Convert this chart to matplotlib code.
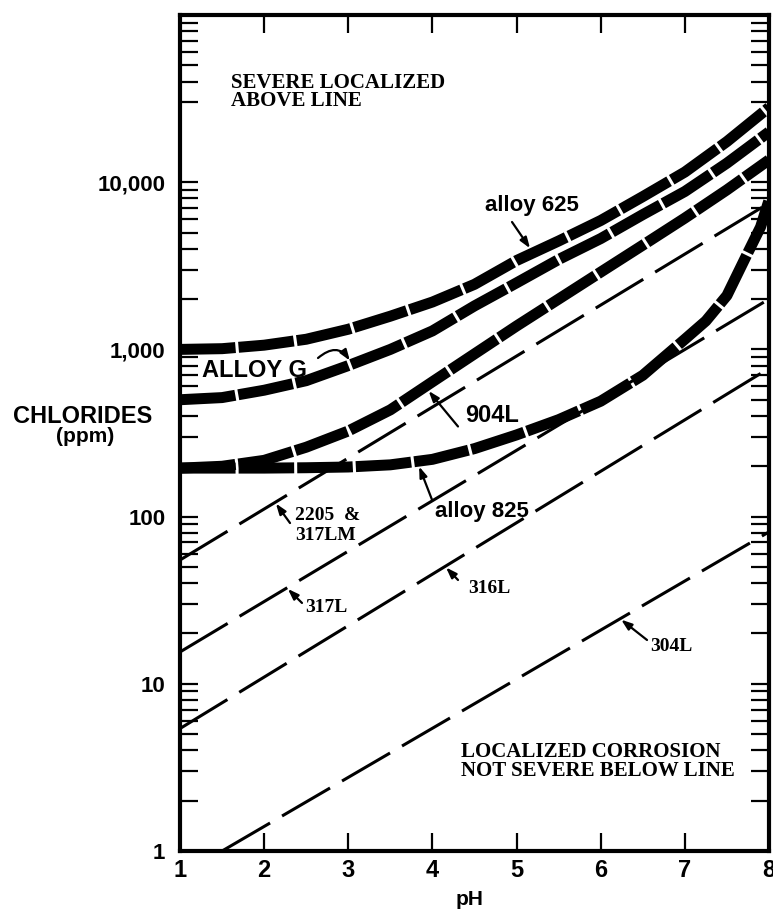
import numpy as np
import matplotlib
matplotlib.use("Agg")
import matplotlib.pyplot as plt
from matplotlib.ticker import FixedLocator, NullFormatter

plt.rcParams["lines.scale_dashes"] = False

# ---- data: chloride limits (ppm) versus pH ----
ph_curve = [1.0, 1.5, 2.0, 2.5, 3.0, 3.5, 4.0, 4.5, 5.0, 5.5, 6.0, 6.5, 7.0, 7.5, 8.0]
alloy_625 = [1000, 1010, 1060, 1150, 1320, 1580, 1920, 2450, 3400, 4450, 5900, 8200, 11500, 17500, 28000]
alloy_g = [500, 515, 570, 650, 800, 1000, 1290, 1820, 2500, 3450, 4600, 6400, 8800, 13000, 20000]
alloy_904l = [195, 200, 217, 260, 325, 435, 640, 940, 1380, 2000, 2900, 4200, 6100, 9000, 13600]

ph_825 = [1.0, 1.5, 2.0, 2.5, 3.0, 3.5, 4.0, 4.5, 5.0, 5.5, 6.0, 6.5, 7.0, 7.25, 7.5, 7.75, 7.9, 8.0]
alloy_825 = [195, 195, 195, 196, 198, 204, 220, 255, 308, 380, 490, 700, 1150, 1480, 2100, 3800, 5400, 7800]

ph_2205 = [1.0, 8.0]
cl_2205 = [55, 7500]
ph_317l = [1.0, 8.0]
cl_317l = [15.5, 2000]
ph_316l = [1.0, 8.0]
cl_316l = [5.4, 770]
ph_304l = [1.5, 8.0]
cl_304l = [1.0, 81]

x_ticks = [1, 2, 3, 4, 5, 6, 7, 8]
y_ticks = [1, 10, 100, 1000, 10000]
y_tick_labels = ["1", "10", "100", "1,000", "10,000"]

SANS = ["Liberation Sans", "DejaVu Sans"]
SERIF = ["Liberation Serif", "DejaVu Serif"]

fig = plt.figure(figsize=(7.73, 9.13), dpi=100)
ax = fig.add_axes([180 / 773, 62 / 913, 589 / 773, 836 / 913])
ax.set_yscale("log")
ax.set_xlim(1, 8)
ax.set_ylim(1, 1e5)

# thin dashed lines (stainless grades)
thin = dict(color="black", lw=2.2, dashes=(40, 10), dash_capstyle="butt", zorder=2)
ax.plot(ph_2205, cl_2205, **thin)
ax.plot(ph_317l, cl_317l, **thin)
ax.plot(ph_316l, cl_316l, **thin)
ax.plot(ph_304l, cl_304l, **thin)

# heavy dashed curves (nickel alloys)
thick = dict(color="black", lw=7.9, dashes=(40, 2.2), dash_capstyle="butt", zorder=3)
ax.plot(ph_curve, alloy_625, **thick)
ax.plot(ph_curve, alloy_g, **thick)
ax.plot(ph_curve, alloy_904l, **thick)
ax.plot(ph_825, alloy_825, **thick)

# axes styling
for s in ax.spines.values():
    s.set_linewidth(3)
ax.set_xticks(x_ticks)
ax.set_xticklabels([str(v) for v in x_ticks])
ax.set_yticks(y_ticks)
ax.set_yticklabels(y_tick_labels)
minor = [m * 10 ** e for e in range(0, 5) for m in range(2, 10) if not (e == 4 and m == 2)]
ax.yaxis.set_minor_locator(FixedLocator(minor))
ax.yaxis.set_minor_formatter(NullFormatter())
ax.xaxis.set_minor_locator(FixedLocator([]))
ax.tick_params(axis="both", which="both", direction="in", top=True, right=True,
               width=1.6, length=13)
ax.tick_params(axis="y", which="major", pad=10.5)
ax.tick_params(axis="x", which="major", pad=6)
for lab in ax.get_yticklabels():
    lab.set_fontfamily(SANS)
    lab.set_fontweight("bold")
    lab.set_fontsize(16)
for lab in ax.get_xticklabels():
    lab.set_fontfamily(SANS)
    lab.set_fontweight("bold")
    lab.set_fontsize(17)

# axis titles
ax.text(-0.166, 0.5125, "CHLORIDES", transform=ax.transAxes, ha="center", va="baseline",
        family=SANS, weight="bold", fontsize=17)
ax.text(-0.161, 0.489, "(ppm)", transform=ax.transAxes, ha="center", va="baseline",
        family=SANS, weight="bold", fontsize=15)
ax.text(0.492, -0.064, "pH", transform=ax.transAxes, ha="center", va="baseline",
        family=SANS, weight="bold", fontsize=15)

# region notes
serif_big = dict(transform=ax.transAxes, ha="left", va="baseline", family=SERIF,
                 weight="bold", fontsize=15)
ax.text(0.0866, 0.9127, "SEVERE LOCALIZED", **serif_big)
ax.text(0.0866, 0.891, "ABOVE LINE", **serif_big)
ax.text(0.477, 0.1124, "LOCALIZED CORROSION", **serif_big)
ax.text(0.477, 0.0897, "NOT SEVERE BELOW LINE", **serif_big)

# curve labels
sans_lab = dict(transform=ax.transAxes, ha="left", va="baseline", family=SANS, weight="bold")
ax.text(0.518, 0.766, "alloy 625", fontsize=16, **sans_lab)
ax.text(0.0374, 0.567, "ALLOY G", fontsize=17, **sans_lab)
ax.text(0.484, 0.5135, "904L", fontsize=17, **sans_lab)
ax.text(0.433, 0.400, "alloy 825", fontsize=16, **sans_lab)

serif_lab = dict(transform=ax.transAxes, ha="left", va="baseline", family=SERIF,
                 weight="bold", fontsize=14)
ax.text(0.195, 0.396, "2205  &", **serif_lab)
ax.text(0.195, 0.372, "317LM", **serif_lab)
ax.text(0.212, 0.286, "317L", **serif_lab)
ax.text(0.489, 0.309, "316L", **serif_lab)
ax.text(0.798, 0.2396, "304L", **serif_lab)


def on_curve(ph, xs, ys):
    return 10 ** np.interp(ph, xs, np.log10(ys))


def pointer(ph, xs, ys, tail, shrink, rad=0.0):
    ax.annotate("", xy=(ph, on_curve(ph, xs, ys)), xycoords="data",
                xytext=tail, textcoords="axes fraction",
                arrowprops=dict(arrowstyle="-|>,head_length=0.45,head_width=0.16",
                                color="black", lw=1.6, shrinkA=0, shrinkB=shrink,
                                mutation_scale=14,
                                connectionstyle=f"arc3,rad={rad}"),
                zorder=4)


pointer(5.197, ph_curve, alloy_625, (0.5637, 0.7524), 4)
pointer(3.045, ph_curve, alloy_g, (0.2343, 0.5897), 3, rad=-0.6)
pointer(3.913, ph_curve, alloy_904l, (0.472, 0.5078), 4)
pointer(3.818, ph_825, alloy_825, (0.428, 0.4199), 4)
pointer(2.13, ph_2205, cl_2205, (0.1868, 0.3923), 1)
pointer(2.27, ph_317l, cl_317l, (0.2071, 0.2967), 1)
pointer(4.15, ph_316l, cl_316l, (0.472, 0.3242), 1)
pointer(6.23, ph_304l, cl_304l, (0.7929, 0.2524), 1)

fig.savefig("out.png", dpi=100)
